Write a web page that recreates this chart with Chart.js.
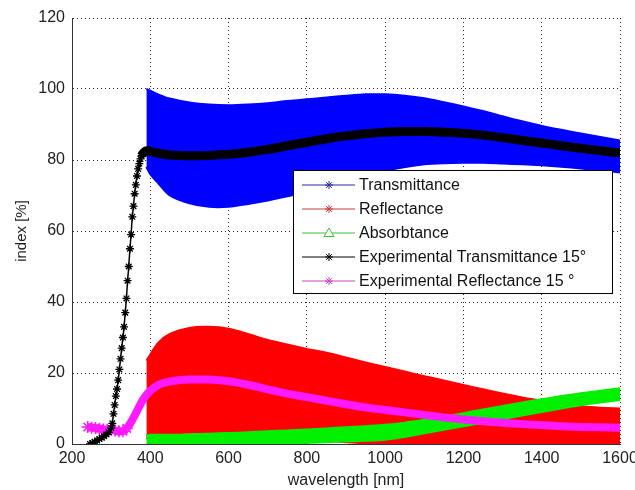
<!DOCTYPE html>
<html>
<head>
<meta charset="utf-8">
<script src="https://cdn.jsdelivr.net/npm/chart.js@4/dist/chart.umd.min.js"></script>
<style>
  html, body { margin: 0; padding: 0; background: #fff; }
  #chart { display: block; }
</style>
</head>
<body>
<canvas id="chart" width="635" height="490"></canvas>
<script>
// simulated bands (upper / lower envelope), nm
const wavelengths = [390, 400, 420, 450, 500, 550, 600, 650, 700, 750, 800, 850, 900, 950,
  1000, 1050, 1100, 1150, 1200, 1250, 1300, 1350, 1400, 1450, 1500, 1550, 1600];

const transUpper = [100, 99.5, 98.5, 97.3, 96.2, 95.6, 95.4, 95.6, 96, 96.6, 97.1, 97.6, 98.1, 98.5,
  98.5, 98.1, 97.4, 96.3, 95.1, 93.8, 92.3, 90.9, 89.6, 88.5, 87.5, 86.5, 85.5];
const transLower = [78, 76, 73.5, 70, 67.8, 66.8, 66.8, 67.6, 68.6, 69.8, 71, 72.5, 74, 75.5,
  77, 78, 78.8, 79.1, 79.2, 79.2, 79, 78.8, 78.5, 78.1, 77.6, 77.1, 76.5];

const reflUpper = [23.5, 25.2, 28.5, 31, 32.7, 33, 32.5, 31, 29.3, 28, 26.8, 25.7, 24.4, 23,
  21.7, 20.4, 19.1, 17.9, 16.6, 15.4, 14.2, 13.1, 12.2, 11.3, 10.6, 10.2, 10];
const reflLower = [1.5, 2, 2.6, 3, 3.2, 3.3, 3.2, 3, 2.6, 2.1, 1.6, 1, 0.5, 0.2,
  0, 0, 0, 0, 0, 0, 0, 0, 0, 0, 0, 0, 0];

const absUpper = [2.4, 2.6, 2.6, 2.6, 2.7, 2.9, 3.1, 3.3, 3.6, 3.8, 4.1, 4.4, 4.7, 5,
  5.4, 6, 6.8, 7.7, 8.7, 9.7, 10.7, 11.7, 12.6, 13.5, 14.3, 15, 15.7];
const absLower = [0, 0, 0, 0, 0, 0, 0, 0, 0, 0, 0.3, 0.5, 0.7, 0.9,
  1.2, 2, 3, 4, 5, 6, 7, 8, 9, 10, 10.9, 11.7, 12.4];

// measured curves at 15 deg
const expTransNm = [246, 252, 258, 264, 270, 276, 282, 288, 294, 300, 303, 306, 309, 312, 315,
  318, 321, 324, 327, 330, 333, 336, 339, 342, 345, 348, 351, 354, 357, 360, 363, 366, 369,
  372, 375, 378, 381, 385, 390, 395, 400, 420, 450, 500, 550, 600, 650, 700, 750, 800, 850,
  900, 950, 1000, 1050, 1100, 1150, 1200, 1250, 1300, 1350, 1400, 1450, 1500, 1550, 1600];
const expTrans = [0, 0.3, 0.6, 1, 1.4, 1.8, 2.2, 2.7, 3.3, 4.5, 5.8, 8.5, 11, 13.5, 15.5,
  18, 21, 24, 27, 30, 33, 37, 41, 46, 50, 55, 59, 64, 67, 70.5, 73, 75.5, 77.5,
  79, 80.3, 81.2, 81.8, 82.3, 82.6, 82.6, 82.4, 81.9, 81.4, 81.2, 81.3, 81.6, 82.2, 83, 84, 85, 86,
  86.8, 87.4, 87.8, 88, 88, 87.8, 87.5, 87, 86.3, 85.5, 84.8, 84, 83.3, 82.6, 82];

const expReflNm = [240, 250, 260, 270, 280, 290, 300, 310, 320, 330, 340, 350, 360, 370, 380,
  390, 400, 420, 450, 500, 550, 600, 650, 700, 750, 800, 850, 900, 950, 1000, 1050, 1100,
  1150, 1200, 1250, 1300, 1350, 1400, 1450, 1500, 1550, 1600];
const expRefl = [4.8, 4.6, 4.5, 4.3, 4.1, 4, 4, 3.8, 3.6, 3.6, 4.4, 6, 8, 10.2, 12.2,
  13.8, 15, 16.6, 17.6, 18.2, 18.2, 17.7, 16.7, 15.4, 14.2, 13.2, 12.2, 11.2, 10.3, 9.6, 8.9, 8.2,
  7.5, 6.9, 6.4, 6, 5.6, 5.3, 5, 4.8, 4.7, 4.6];

const xTicks = [200, 400, 600, 800, 1000, 1200, 1400, 1600];
const yTicks = [0, 20, 40, 60, 80, 100, 120];

const legendLabels = ['Transmittance', 'Reflectance', 'Absorbtance',
  'Experimental Transmittance 15\u00b0', 'Experimental Reflectance 15 \u00b0'];

const FONT = '"Liberation Sans", Arial, sans-serif';

function pts(xs, ys) {
  return xs.map((x, i) => ({ x: x, y: ys[i] }));
}

function band(upper, lower, color, upperIndex, order) {
  return [
    { data: pts(wavelengths, upper), borderColor: color, borderWidth: 2, pointRadius: 0,
      fill: false, tension: 0.3, order: order },
    { data: pts(wavelengths, lower), borderColor: color, borderWidth: 2, pointRadius: 0,
      backgroundColor: color, fill: upperIndex, tension: 0.3, order: order }
  ];
}

// legend box in the style of a matlab figure
const legendBox = {
  id: 'legendBox',
  afterDatasetsDraw(chart) {
    const ctx = chart.ctx;
    const x0 = 293, y0 = 170, w = 319, h = 123;
    const colors = ['#2a2a9a', '#c83a3a', '#3cbf3c', '#000000', '#c848c8'];
    ctx.save();
    ctx.fillStyle = '#fff';
    ctx.fillRect(x0, y0, w, h);
    ctx.strokeStyle = '#000';
    ctx.lineWidth = 1;
    ctx.strokeRect(x0 + 0.5, y0 + 0.5, w, h);
    ctx.font = '16px ' + FONT;
    ctx.textBaseline = 'middle';
    legendLabels.forEach((label, i) => {
      const y = y0 + 15 + i * 24;
      ctx.strokeStyle = colors[i];
      ctx.lineWidth = 1;
      ctx.beginPath();
      ctx.moveTo(302, y);
      ctx.lineTo(355, y);
      ctx.stroke();
      const mx = 329;
      ctx.beginPath();
      if (i === 2) {
        ctx.moveTo(mx, y - 5);
        ctx.lineTo(mx + 5, y + 3.5);
        ctx.lineTo(mx - 5, y + 3.5);
        ctx.closePath();
        ctx.fillStyle = '#fff';
        ctx.fill();
      } else {
        for (let k = 0; k < 4; k++) {
          const a = k * Math.PI / 4;
          ctx.moveTo(mx - 4 * Math.cos(a), y - 4 * Math.sin(a));
          ctx.lineTo(mx + 4 * Math.cos(a), y + 4 * Math.sin(a));
        }
      }
      ctx.stroke();
      ctx.fillStyle = '#111';
      ctx.fillText(label, 359, y + 1);
    });
    ctx.restore();
  }
};

const steep = ctx => (ctx.parsed && ctx.parsed.x < 385);

new Chart(document.getElementById('chart'), {
  type: 'line',
  data: {
    datasets: [
      ...band(transUpper, transLower, '#0000ff', 0, 6),
      ...band(reflUpper, reflLower, '#ff0000', 2, 5),
      ...band(absUpper, absLower, '#00f000', 4, 4),
      {
        data: pts(expTransNm, expTrans),
        borderColor: '#000',
        pointStyle: 'star',
        pointBorderColor: '#000',
        pointBorderWidth: 1.3,
        pointRadius: ctx => steep(ctx) ? 4 : 0,
        fill: false,
        cubicInterpolationMode: 'monotone',
        segment: { borderWidth: ctx => ctx.p0.parsed.x >= 378 ? 9 : 1.5 },
        order: 1
      },
      {
        data: pts(expReflNm, expRefl),
        borderColor: '#ff1aff',
        borderWidth: 8,
        pointStyle: 'star',
        pointBorderColor: '#ff1aff',
        pointBorderWidth: 1.5,
        pointRadius: ctx => (ctx.parsed && ctx.parsed.x < 345) ? 6 : 0,
        fill: false,
        cubicInterpolationMode: 'monotone',
        order: 2
      }
    ]
  },
  options: {
    responsive: false,
    animation: false,
    layout: { padding: { top: 18, right: 15, left: 0, bottom: 0 } },
    plugins: {
      legend: { display: false },
      tooltip: { enabled: false }
    },
    scales: {
      x: {
        type: 'linear',
        min: 200,
        max: 1600,
        afterBuildTicks: s => { s.ticks = xTicks.map(v => ({ value: v })); },
        afterFit: s => { s.height = 46; s.paddingRight = 15; s.paddingLeft = 0; },
        ticks: { color: '#222', font: { size: 16, family: FONT }, padding: 5, maxRotation: 0,
          callback: v => String(v) },
        grid: { color: '#222', lineWidth: 1, drawTicks: false },
        border: { display: true, color: '#333', width: 1, dash: [1, 3] },
        title: { display: true, text: 'wavelength [nm]', color: '#222',
          font: { size: 16, family: FONT }, padding: { top: 0, bottom: 0 } }
      },
      y: {
        min: 0,
        max: 120,
        afterBuildTicks: s => { s.ticks = yTicks.map(v => ({ value: v })); },
        afterFit: s => { s.width = 72; },
        ticks: { color: '#222', font: { size: 16, family: FONT }, padding: 7,
          callback: v => String(v) },
        grid: { color: '#222', lineWidth: 1, drawTicks: false },
        border: { display: true, color: '#333', width: 1, dash: [1, 3] },
        title: { display: true, text: 'index [%]', color: '#222',
          font: { size: 15, family: FONT }, padding: { top: 13, bottom: 0 } }
      }
    }
  },
  plugins: [legendBox]
});
</script>
</body>
</html>
